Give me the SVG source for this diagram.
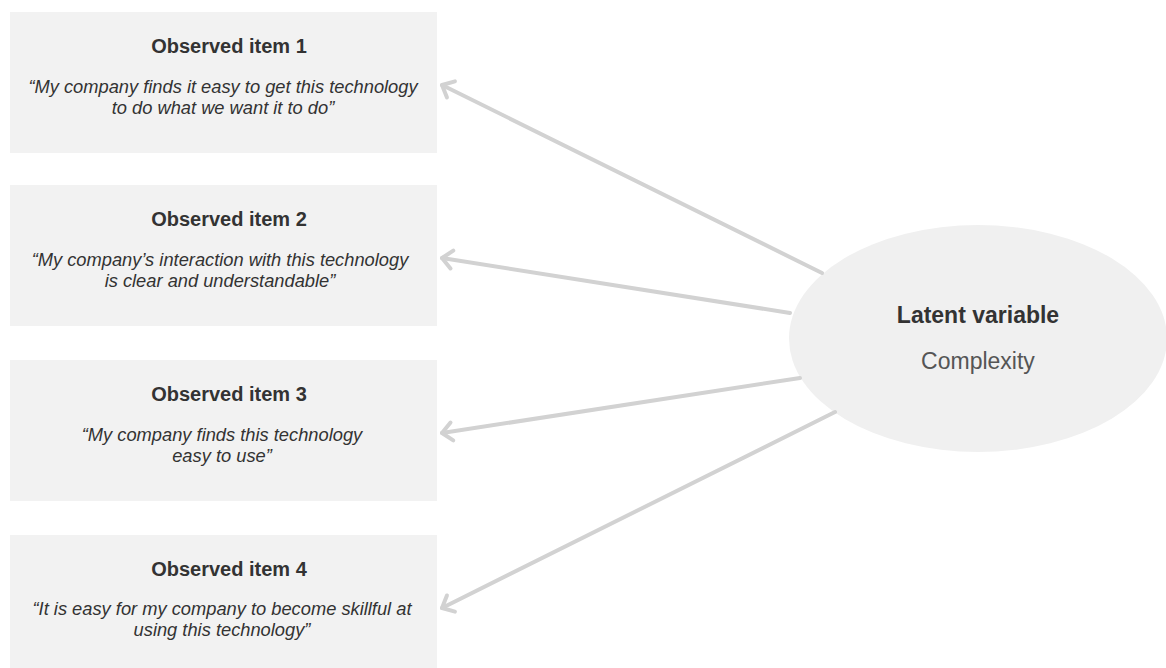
<svg xmlns="http://www.w3.org/2000/svg" width="1166" height="668" viewBox="0 0 1166 668">
  <style>
    .box { fill: #f2f2f2; }
    .title { font-family: "Liberation Sans", Arial, sans-serif; font-size: 20px; font-weight: bold; fill: #333333; text-anchor: middle; }
    .quote { font-family: "Liberation Sans", Arial, sans-serif; font-size: 18.3px; font-style: italic; fill: #333333; text-anchor: middle; }
    .edge { stroke: #d2d2d2; stroke-width: 4; fill: none; stroke-linecap: round; }
    .latent { font-family: "Liberation Sans", Arial, sans-serif; font-size: 23px; text-anchor: middle; }
  </style>
  <defs>
    <!-- open chevron arrowhead, tip at the end of the line -->
    <marker id="chev" markerUnits="userSpaceOnUse" markerWidth="30" markerHeight="30" refX="15" refY="12" orient="auto" viewBox="0 0 30 24">
      <path d="M5,3 L15,12 L5,21" fill="none" stroke="#d2d2d2" stroke-width="4" stroke-linecap="round" stroke-linejoin="round"/>
    </marker>
  </defs>
  <rect width="1166" height="668" fill="#ffffff"/>

  <g id="item1">
    <rect class="box" x="10" y="12" width="427" height="141"/>
    <text class="title" x="229" y="53">Observed item 1</text>
    <text class="quote" x="223" y="93">“My company finds it easy to get this technology</text>
    <text class="quote" x="223" y="114">to do what we want it to do”</text>
  </g>

  <g id="item2">
    <rect class="box" x="10" y="185" width="427" height="141"/>
    <text class="title" x="229" y="226">Observed item 2</text>
    <text class="quote" x="220" y="266">“My company’s interaction with this technology</text>
    <text class="quote" x="220" y="287">is clear and understandable”</text>
  </g>

  <g id="item3">
    <rect class="box" x="10" y="360" width="427" height="141"/>
    <text class="title" x="229" y="401">Observed item 3</text>
    <text class="quote" x="222" y="441">“My company finds this technology</text>
    <text class="quote" x="222" y="462">easy to use”</text>
  </g>

  <g id="item4">
    <rect class="box" x="10" y="535" width="427" height="141"/>
    <text class="title" x="229" y="576">Observed item 4</text>
    <text class="quote" x="222" y="615">“It is easy for my company to become skillful at</text>
    <text class="quote" x="222" y="636">using this technology”</text>
  </g>

  <g id="latent">
    <ellipse cx="978" cy="338.5" rx="189" ry="113.5" fill="#f0f0f0"/>
    <text class="latent" x="978" y="323" font-weight="bold" fill="#333333">Latent variable</text>
    <text class="latent" x="978" y="369" fill="#555555">Complexity</text>
  </g>

  <g id="connectors">
    <line class="edge" x1="822" y1="273" x2="442" y2="85" marker-end="url(#chev)"/>
    <line class="edge" x1="790" y1="313" x2="442" y2="258" marker-end="url(#chev)"/>
    <line class="edge" x1="800" y1="378" x2="442" y2="433" marker-end="url(#chev)"/>
    <line class="edge" x1="835" y1="412" x2="442" y2="608" marker-end="url(#chev)"/>
  </g>
</svg>
